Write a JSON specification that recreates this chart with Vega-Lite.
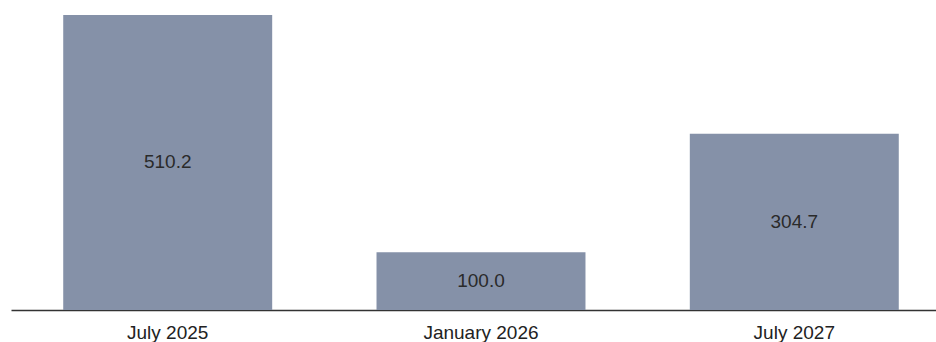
{
  "$schema": "https://vega.github.io/schema/vega-lite/v6.json",
  "autosize": "none",
  "padding": {"left": 11, "top": 0, "right": 0, "bottom": 32},
  "width": 940,
  "height": 310,
  "data": {"values": [
    {"period": "July 2025", "value": 510.2},
    {"period": "January 2026", "value": 100.0},
    {"period": "July 2027", "value": 304.7}
  ]},
  "config": {"view": {"stroke": null}, "font": "Liberation Sans"},
  "encoding": {
    "x": {"field": "period", "type": "nominal", "sort": null,
      "scale": {"paddingInner": 0.333, "paddingOuter": 0.1667},
      "axis": {"title": null, "labelAngle": 0, "ticks": false, "labelFontSize": 19, "labelColor": "#222", "labelPadding": 13, "domainColor": "#333", "domainWidth": 1.5, "labelFont": "Liberation Sans"}}
  },
  "layer": [
    {"mark": {"type": "bar", "color": "#8591a8"},
     "encoding": {"y": {"field": "value", "type": "quantitative", "scale": {"domain": [0, 536], "nice": false}, "axis": null}}},
    {"mark": {"type": "text", "fontSize": 19, "color": "#2a2a2a", "font": "Liberation Sans", "baseline": "middle"},
     "encoding": {"y": {"field": "value", "type": "quantitative", "scale": {"domain": [0, 1072], "nice": false}, "axis": null},
       "text": {"field": "value", "type": "quantitative", "format": ".1f"}}}
  ],
  "resolve": {"scale": {"y": "independent"}}
}
